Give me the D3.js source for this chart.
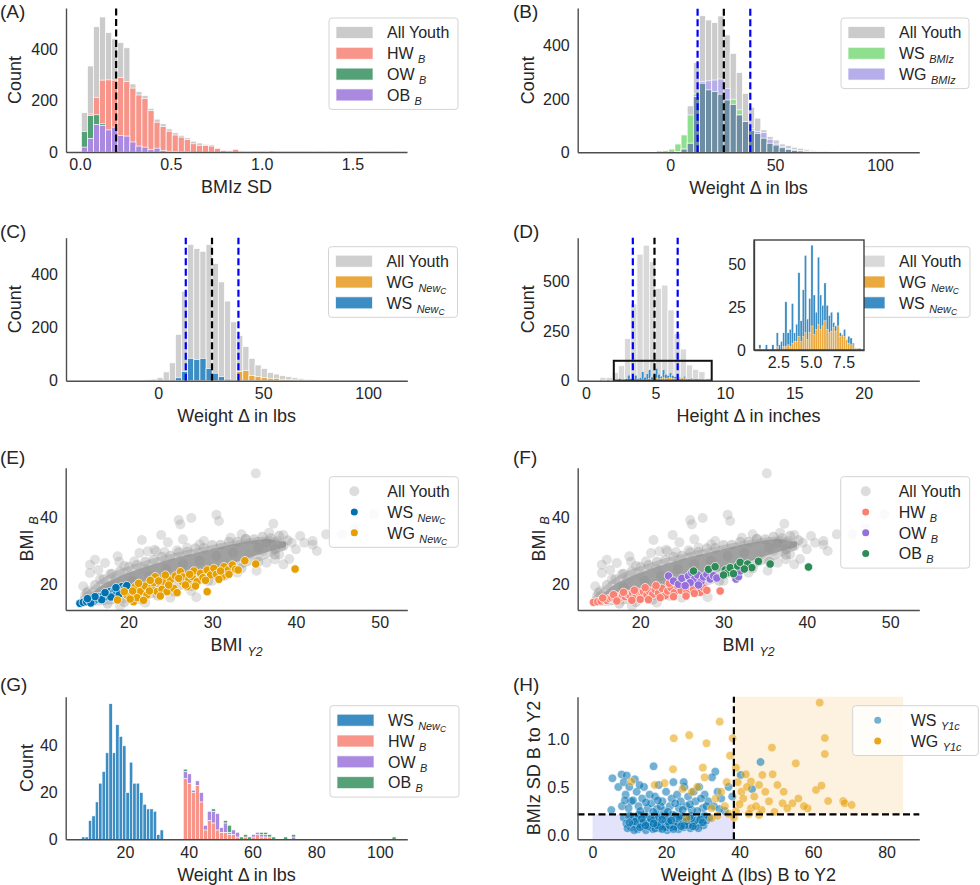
<!DOCTYPE html>
<html><head><meta charset="utf-8">
<script src="https://cdn.jsdelivr.net/npm/d3@7"></script>
<style>body{margin:0;background:#fff}svg{display:block}text{white-space:pre}</style>
</head><body>
<script>
// ---------------- DATA ----------------
// (A) BMIz SD histogram, bins start 0.008, width 0.0333
const aBinStart = 0.008, aBinWidth = 0.0333;
const aAllYouth = [153,335,488,526,465,441,426,406,265,235,220,170,128,110,90,75,65,55,42,35,30,28,16,8,6,12,5,4,3,3,5,4,2,1,1,3,1,1,0,1,0,1,0,0,1,0,0,0,1,0,0,1];
const aHW = [0,148,213,280,281,280,290,274,249,222,209,161,116,99,81,66,58,48,32,26,25,23,13,6,4,10,3,2,1,1,2,4,1,0,0,1,0,0,0,0,0,0,0,0,0,0,0,0,0,0,0,0];
const aOW = [80,142,145,110,0,0,0,0,0,0,0,0,0,0,0,0,0,0,0,0,0,0,0,0,0,0,0,0,0,0,0,0,0,0,0,0,0,0,0,0,0,0,0,0,0,0,0,0,0,0,0,0];
const aOB = [19,52,107,103,86,97,65,62,39,23,19,9,15,6,3,2,1,1,0,0,0,0,0,0,0,0,0,0,0,0,0,0,0,0,0,0,0,0,0,0,0,0,0,0,0,0,0,0,0,0,0,0];
const aMean = 0.199;

// (B)/(C) weight change histogram, bins start -6.44, width 2.92
const wBinStart = -6.44, wBinWidth = 2.92;
const wAllYouth = [5,6,12,33,67,174,336,512,496,486,511,440,371,299,221,169,128,84,59,46,31,25,19,15,11,7,5,4,2,1];
const bWS = [5,6,12,31,65,140,219,259,234,228,218,196,199,159,115,90,71,53,34,27,17,10,7,5,3,2,1,0,0,0];
const bWG = [0,0,0,2,12,34,209,265,268,271,275,240,180,140,115,81,78,74,49,31,21,15,10,7,5,3,2,1,1,0];
const wLines = [13.1, 25.6, 38.2];
const cWSStart = 8.16, cWS = [11,34,84,80,84,46,28,15,6];
const cWGStart = 37.36, cWG = [34,38,19,15,12,9,9,5,5,3,2,1];

// (D) height change
const dBinStart = 1.0, dBinWidth = 0.445;
const dAllYouth = [17,17,40,75,212,385,635,680,597,463,480,355,237,159,79,57,45,12];
const dFineStart = 1.0, dFineWidth = 0.1667;
const dWS = [3,0,0,3,0,0,3,0,10,3,5,10,28,10,12,27,10,15,45,17,35,55,18,30,61,32,22,54,32,26,39,26,20,22,16,14,22,10,9,12,6,8,7,4,1,1,1];
const dWG = [1,0,0,0,0,0,0,0,2,0,0,2,2,3,2,4,5,5,8,5,8,10,6,10,14,9,12,15,12,14,17,12,10,11,13,11,14,8,9,8,6,4,3,3,1,1,0];
const dLines = [3.37, 4.93, 6.6];
const dZoomBox = [2.0, 9.05, 0, 100];

// (E)/(F) BMI scatter: All Youth dense band (x, upper, lower) and individual points
const bandX  = [14.2,15.5,17,19,21,23,25,27,29,31,33,35,37,38.8];
const bandHi = [16.0,19.0,22.0,24.5,26.2,27.8,29.0,30.2,31.3,32.3,33.2,34.0,34.3,33.0];
const bandLo = [13.8,13.6,13.8,14.3,15.0,16.0,17.3,18.8,20.5,22.3,24.2,26.2,28.3,30.5];
const coreHi = [15.0,17.2,20.0,22.5,24.4,26.0,27.5,28.8,30.0,31.2,32.3,33.2,33.5,32.5];
const coreLo = [14.2,14.3,15.0,16.2,17.6,19.0,20.5,22.0,23.6,25.2,26.8,28.5,30.0,31.2];
const grayPts = [[35.2,53.3],[26.0,39.3],[27.5,39.9],[26.2,38.0],[30.5,40.9],[30.8,39.0],[49.3,41.0],[43.6,35.0],[42.0,33.0],[47.0,36.7],[40.5,34.5],[40.0,30.5],[39.2,27.6],[37.3,38.2],[35.3,24.1],[28.1,16.1],[21.6,33.3],[23.9,34.8],[24.7,32.6],[22.3,29.9],[23.3,29.9],[20.7,26.9],[18.7,28.4],[15.4,25.9],[16.0,27.4],[14.6,19.4],[15.4,23.4],[17.2,26.4],[18.9,26.8],[21.3,29.4],[23.1,30.4],[24.3,29.7],[16.4,24.3],[19.5,25.5],[17.8,23.0],[16.6,21.5],[25.8,30.2],[27.0,31.0],[26.5,33.5],[28.5,32.0],[36.8,35.5],[38.5,34.8],[37.8,33.0],[39.5,32.5],[36.0,30.0],[34.5,29.0],[38.0,29.0],[41.0,32.5],[42.5,30.0],[45.5,35.0],[33.5,35.0],[32.2,34.0],[34.0,33.5],[29.0,33.0],[22.0,24.5],[20.0,22.5],[18.5,21.5],[24.5,26.0],[15.2,18.0],[14.8,16.5],[19.0,13.5],[22.0,14.5],[25.0,16.0],[27.5,18.0],[30.0,21.0],[31.5,22.5],[33.0,23.5],[36.5,26.5],[37.5,27.5],[38.5,26.0],[42.0,31.9]];
const bandPts = [[15.0,17.5],[16.0,19.8],[17.0,21.5],[18.0,23.2],[19.0,24.0],[20.0,25.3],[21.0,25.8],[22.0,26.8],[23.0,27.4],[24.0,28.3],[25.0,28.6],[26.0,29.6],[27.0,29.8],[28.0,30.8],[29.0,30.9],[30.0,31.8],[31.0,31.9],[32.0,32.8],[33.0,32.8],[34.0,33.7],[35.0,33.5],[36.0,34.3],[37.0,33.8],[38.0,34.6],[39.0,33.2],[36.5,32.5],[38.5,31.5],[37.5,30.5],[17.5,14.2],[19.5,14.6],[21.5,15.4],[23.5,16.6],[25.5,17.8],[27.5,19.4],[29.5,21.0],[31.5,22.8],[33.5,24.8],[35.5,26.8],[37.5,28.9],[20.5,21.0],[24.5,24.5],[28.5,27.0],[32.5,29.5],[35.5,31.0],[18.0,19.0],[22.5,22.5],[26.5,26.0],[30.5,28.5]];
const eWS = [[14.2,14.3],[14.6,14.6],[15.0,14.8],[15.3,15.2],[15.6,15.6],[15.9,15.0],[16.2,15.6],[16.4,16.2],[16.6,16.3],[16.9,15.8],[17.0,16.8],[17.4,16.3],[17.6,17.2],[17.8,17.8],[18.0,16.8],[18.2,17.6],[18.4,18.3],[18.6,17.3],[18.8,18.6],[19.0,18.3],[19.2,19.3],[19.4,18.0],[19.6,19.0],[19.8,19.6],[15.5,14.4],[16.8,15.4],[17.9,16.2],[18.9,17.1],[16.0,16.3],[17.2,17.5],[18.5,19.0],[15.1,15.7]];
const eWG = [[18.7,15.3],[19.8,16.8],[20.6,14.8],[20.8,19.3],[21.4,17.8],[21.0,16.0],[22.2,16.8],[22.0,19.5],[22.8,19.3],[23.2,22.3],[23.4,17.8],[23.0,20.5],[24.2,20.8],[24.0,18.5],[24.6,17.8],[25.0,21.3],[25.4,18.8],[25.6,22.5],[26.2,23.8],[26.4,20.8],[26.5,22.2],[27.0,19.3],[27.2,21.5],[27.6,22.3],[27.8,24.0],[28.2,20.8],[28.6,23.3],[28.9,22.0],[29.4,17.8],[29.4,24.3],[29.8,22.8],[30.2,24.8],[30.5,23.0],[31.2,22.3],[31.4,25.3],[31.9,24.3],[32.4,25.8],[32.8,24.5],[33.1,24.3],[33.9,27.1],[35.2,26.1],[39.9,24.6],[21.8,15.2],[20.2,15.6],[23.8,16.5],[25.8,17.5],[26.8,19.8],[28.0,19.5],[30.8,21.5],[22.5,18.0],[24.8,19.8],[21.2,20.3],[19.5,17.8],[20.5,18.0],[23.6,21.0],[27.3,23.0],[29.2,21.2],[31.0,24.0],[32.0,23.0],[26.0,21.8],[24.4,22.8],[22.6,21.2]];
const fHW = [[14.4,14.6],[14.9,14.8],[15.3,15.0],[15.7,15.4],[16.0,15.2],[16.3,15.8],[16.6,16.0],[17.0,15.6],[17.3,16.4],[17.6,16.0],[17.9,16.8],[18.2,16.3],[18.5,17.0],[18.8,16.5],[19.1,17.3],[19.5,16.8],[19.8,17.6],[20.1,16.2],[20.4,17.8],[20.8,16.8],[21.1,18.0],[21.5,17.0],[21.8,18.4],[22.2,17.4],[22.6,18.8],[23.0,16.6],[23.3,18.0],[23.7,19.0],[24.1,17.5],[24.5,19.5],[24.9,18.2],[25.3,20.2],[25.6,17.8],[26.0,19.4],[26.4,18.5],[26.8,20.3],[27.2,17.6],[27.6,19.0],[28.0,18.2],[29.6,18.0],[15.5,15.9],[16.8,16.9],[18.0,17.6],[19.3,18.2],[20.6,19.0],[21.9,19.6],[23.5,20.3],[25.0,21.3],[20.0,15.5],[22.4,16.0],[24.0,16.3],[17.2,15.0],[21.0,15.4],[19.0,15.2],[26.5,17.3],[25.5,16.5],[27.2,21.0]];
const fOW = [[23.4,22.5],[24.0,21.0],[24.6,20.0],[25.0,21.8],[25.8,22.5],[26.2,23.5],[26.5,21.5],[26.9,22.8],[27.3,20.8],[27.6,22.2],[28.0,23.0],[28.4,21.6],[28.8,22.6],[29.2,21.9],[26.0,20.5],[27.0,19.8],[31.5,21.6],[31.8,22.3],[32.0,24.0],[25.4,19.6]];
const fOB = [[26.4,24.0],[28.2,24.5],[29.0,25.3],[30.2,24.3],[30.5,23.5],[30.8,25.0],[31.2,23.2],[31.7,25.5],[32.0,26.6],[32.9,26.1],[33.4,25.0],[34.2,26.9],[35.6,26.1],[40.2,25.2],[30.0,22.8],[32.5,24.6]];

// (G) weight change of new groups
const gWSStart = 6.4, gWSWidth = 1.07;
const gWS = [1,1,8,10,16,24,29,37,58,37,49,44,40,20,33,24,24,20,15,13,13,12,2,4];
const gStart = 38.3, gWidth = 1.26;
const gHW = [26,24,20,23,16,4,8,7,4,3,3,2,2,1,0,1,0,1,2,1,1,1,0,0,0,0,0,0,0,0,0,0,0,0,0,0,0,0,0,0,0,0,0,0,0,0,0,0,0,0,0,0,0];
const gOW = [3,4,1,2,4,2,4,5,7,2,4,1,2,2,0,0,0,1,1,1,1,0,0,0,0,0,0,1,0,0,0,0,0,0,0,0,0,0,0,0,0,0,0,0,0,0,0,0,0,0,0,0,0];
const gOB = [1,0,0,0,0,0,0,1,0,0,1,3,0,0,1,1,1,0,0,1,1,1,1,0,0,1,0,1,0,0,0,0,0,0,0,0,0,0,0,0,0,0,0,0,0,0,0,0,0,0,0,0,1];

// (H) weight change vs BMIz SD
const hXCut = 38.45, hYCut = 0.215, hXMax = 84.5;
const hWS = [[8.5,0.18],[9.2,0.12],[9.8,0.2],[10.5,0.08],[10.8,0.15],[11.4,0.19],[11.9,0.1],[12.3,0.06],[12.7,0.14],[13.2,0.2],[13.6,0.09],[14.0,0.16],[14.5,0.05],[14.8,0.12],[15.2,0.19],[15.7,0.08],[16.1,0.14],[16.5,0.06],[16.9,0.2],[17.3,0.11],[17.8,0.16],[18.2,0.07],[18.6,0.13],[19.0,0.19],[19.5,0.09],[19.9,0.15],[20.3,0.05],[20.8,0.12],[21.2,0.18],[21.6,0.08],[22.1,0.14],[22.5,0.2],[23.0,0.1],[23.4,0.06],[23.9,0.16],[24.3,0.12],[24.8,0.08],[25.2,0.18],[25.7,0.11],[26.1,0.15],[26.6,0.07],[27.0,0.2],[27.5,0.12],[28.0,0.09],[28.5,0.16],[29.0,0.13],[29.6,0.19],[30.2,0.1],[31.0,0.15],[31.8,0.18],[9.5,0.07],[11.0,0.11],[12.0,0.17],[13.0,0.11],[14.2,0.21],[15.5,0.13],[16.3,0.1],[17.0,0.07],[18.0,0.2],[19.2,0.11],[20.5,0.17],[21.8,0.21],[23.2,0.13],[24.6,0.15],[26.0,0.1],[27.8,0.15],[10.2,0.2],[12.5,0.21],[15.0,0.09],[17.5,0.13],[20.0,0.08],[22.8,0.17],[25.5,0.14],[28.8,0.07],[13.8,0.13],[16.8,0.16],[19.7,0.2],[22.3,0.09],[24.0,0.2],[26.8,0.17],[18.4,0.09],[21.0,0.1],[11.6,0.14],[30.5,0.2],
 [10.0,0.13],[11.3,0.05],[12.9,0.08],[14.4,0.1],[15.9,0.17],[17.6,0.1],[19.0,0.06],[20.6,0.14],[22.0,0.06],[23.6,0.19],[25.0,0.1],[26.4,0.19],[27.3,0.09],[29.3,0.16],[30.0,0.13],[13.4,0.17],[16.6,0.12],[21.4,0.15],[24.1,0.09],[18.9,0.16],
 [5.1,0.26],[5.4,0.59],[7.9,0.63],[9.3,0.62],[16.6,0.715],[33.4,0.66],[45.7,0.76],[40.3,0.625],[43.4,0.479],[7.0,0.5],[8.5,0.55],[9.0,0.42],[10.0,0.5],[10.5,0.35],[11.5,0.58],[12.0,0.45],[12.5,0.3],[13.5,0.38],[14.0,0.5],[15.0,0.28],[15.5,0.42],[16.0,0.33],[17.0,0.4],[17.5,0.27],[18.0,0.52],[19.0,0.35],[19.5,0.25],[20.0,0.45],[21.0,0.3],[21.5,0.38],[22.0,0.55],[23.0,0.42],[23.5,0.28],[24.0,0.35],[25.0,0.5],[25.5,0.3],[26.0,0.4],[27.0,0.26],[27.5,0.45],[28.0,0.35],[29.0,0.5],[30.0,0.28],[30.5,0.42],[31.5,0.35],[32.5,0.6],[33.0,0.3],[34.0,0.45],[35.0,0.38],[36.0,0.25],[37.0,0.5],[38.0,0.4],[8.0,0.3],[9.8,0.28],[11.0,0.36],[13.0,0.25],[14.5,0.34],[16.5,0.24],[18.5,0.3],[20.5,0.24],[22.5,0.33],[24.5,0.26],[26.5,0.32],[28.5,0.25],[31.0,0.3],[34.5,0.27],[8.8,0.36],[12.8,0.52],[17.8,0.36],[24.8,0.55],[29.5,0.38]];
const hWG = [[61.8,1.378],[34.6,1.18],[22.1,1.007],[26.3,1.04],[31.0,0.955],[38.1,1.007],[63.2,1.01],[48.8,0.91],[63.2,0.843],[37.4,0.826],[55.3,0.746],[21.9,0.684],[30.0,0.701],[60.8,0.469],[62.3,0.514],[64.1,0.354],[68.2,0.354],[68.6,0.33],[70.5,0.313],[54.4,0.33],[46.2,0.625],[49.0,0.632],[41.7,0.632],[43.1,0.556],[45.3,0.521],[50.3,0.521],[58.5,0.278],[51.7,0.33],[43.1,0.278],[45.3,0.208],[32.4,0.278],[32.4,0.174],[25.6,0.174],[16.9,0.521],[10.5,0.556],[19.6,0.54],[39.5,0.55],[40.5,0.45],[41.0,0.38],[42.0,0.5],[44.0,0.4],[47.0,0.45],[48.0,0.35],[52.0,0.45],[53.0,0.28],[56.0,0.38],[57.5,0.3],[36.0,0.3],[37.0,0.22],[39.0,0.25],[40.0,0.32],[35.0,0.45],[33.5,0.38],[28.5,0.5],[27.0,0.45],[30.5,0.6],[24.5,0.48],[34.0,0.2],[38.5,0.18],[42.5,0.22],[46.0,0.26],[49.5,0.24],[36.5,0.55],[39.0,0.7],[44.5,0.3]];

// ---------------- DRAWING ----------------
const FONT = '"Liberation Sans", Arial, Helvetica, sans-serif';
const TXT = "#262626";
const svg = d3.select("body").append("svg").attr("width",980).attr("height",885).attr("font-family",FONT);
svg.append("rect").attr("width",980).attr("height",885).attr("fill","#fff");

function panel(c){
  const x = d3.scaleLinear().domain(c.xd).range([c.l,c.r]);
  const y = d3.scaleLinear().domain(c.yd).range([c.b,c.t]);
  const g = svg.append("g");
  return {x,y,g,c};
}
function axes(p){
  const {x,y,g,c} = p;
  const ax = g.append("g").attr("transform",`translate(0,${c.b})`)
    .call(d3.axisBottom(x).tickValues(c.xt).tickFormat(d3.format(c.xf||"d")).tickSize(0).tickPadding(7));
  const ay = g.append("g").attr("transform",`translate(${c.l},0)`)
    .call(d3.axisLeft(y).tickValues(c.yt).tickFormat(d3.format(c.yf||"d")).tickSize(0).tickPadding(8));
  [ax,ay].forEach(a=>{
    a.attr("font-family",FONT).attr("font-size",16);
    a.select(".domain").attr("stroke","#4d4d4d").attr("stroke-width",1.4);
    a.selectAll("text").attr("fill",TXT);
  });
}
function rich(t, parts, base){
  const off=[0, base*0.25, base*0.4]; let cur=0;
  parts.forEach(([s,l])=>{
    const ts=t.append("tspan").text(s);
    if(l>0) ts.attr("font-style","italic").attr("font-size", l===1? base*0.68 : base*0.53);
    if(l!==cur) ts.attr("dy", off[l]-off[cur]);
    cur=l;
  });
}
function labels(p, xl, yl, yoff){
  const c=p.c, fs=18;
  const tx=svg.append("text").attr("x",(c.l+c.r)/2).attr("y",c.b+35+fs*0.35)
    .attr("text-anchor","middle").attr("font-size",fs).attr("fill",TXT);
  rich(tx,xl,fs);
  const ty=svg.append("text").attr("transform",`translate(${c.l-yoff},${(c.t+c.b)/2}) rotate(-90)`)
    .attr("y",fs*0.35).attr("text-anchor","middle").attr("font-size",fs).attr("fill",TXT);
  rich(ty,yl,fs);
}
function hist(p, start, width, counts, color, sw=0.7, base=null){
  const data = counts.map((v,i)=>({x0:start+i*width, x1:start+(i+1)*width, v, b: base? base[i]:0})).filter(d=>d.v>0);
  p.g.append("g").selectAll("rect").data(data).join("rect")
    .attr("x",d=>p.x(d.x0)).attr("width",d=>Math.max(0.5,p.x(d.x1)-p.x(d.x0)))
    .attr("y",d=>p.y(d.b+d.v)).attr("height",d=>p.y(d.b)-p.y(d.b+d.v))
    .attr("fill",color).attr("stroke","#fff").attr("stroke-width",sw);
}
function vline(p, v, color){
  p.g.append("line").attr("x1",p.x(v)).attr("x2",p.x(v)).attr("y1",p.c.b).attr("y2",p.c.t)
    .attr("stroke",color).attr("stroke-width",2.2).attr("stroke-dasharray","7,3.5");
}
function legend(x0, y0, w, items){
  const h = 29 + (items.length-1)*20.8;
  const g = svg.append("g");
  g.append("rect").attr("x",x0).attr("y",y0).attr("width",w).attr("height",h).attr("rx",3)
    .attr("fill","#fff").attr("fill-opacity",0.82).attr("stroke","#d4d4d4").attr("stroke-width",1);
  items.forEach((it,i)=>{
    const cy = y0+14.5+i*20.8;
    if(it.kind==="patch"){
      g.append("rect").attr("x",x0+7).attr("y",cy-6).attr("width",37).attr("height",12)
        .attr("fill",it.color).attr("stroke","#fff").attr("stroke-opacity",0.7).attr("stroke-width",1);
    } else {
      g.append("circle").attr("cx",x0+25).attr("cy",cy).attr("r",it.r||3.5).attr("fill",it.color).attr("opacity",it.op||1);
    }
    const t=g.append("text").attr("x",x0+58).attr("y",cy+16*0.36).attr("font-size",16).attr("fill",TXT);
    rich(t,it.label,16);
  });
}
function dots(p, pts, color, r, op, stroke){
  p.g.append("g").selectAll("circle").data(pts).join("circle")
    .attr("cx",d=>p.x(d[0])).attr("cy",d=>p.y(d[1])).attr("r",r)
    .attr("fill",color).attr("opacity",op)
    .attr("stroke",stroke?"#fff":"none").attr("stroke-width",stroke||0);
}

const C_GRAY="#cbcbcb", C_HW="#f7958a", C_OW="#55a177", C_OB="#a98ae0";
const C_WSg="#8fdf8f", C_WGp="#b5aee9", C_SLATE="#6d8da3";
const C_OR="#e9a93f", C_BL="#3b8dc4";

// ---- (A)
const pA = panel({l:66,r:407,t:8,b:152,xd:[-0.077,1.80],yd:[0,561],xt:[0,0.5,1,1.5],yt:[0,200,400],xf:".1f"});
hist(pA,aBinStart,aBinWidth,aAllYouth,C_GRAY);
hist(pA,aBinStart,aBinWidth,aHW,C_HW);
hist(pA,aBinStart,aBinWidth,aOW,C_OW);
hist(pA,aBinStart,aBinWidth,aOB,C_OB);
vline(pA,aMean,"#000");
axes(pA);
labels(pA,[["BMIz SD",0]],[["Count",0]],51);
legend(329,18,129,[
  {kind:"patch",color:C_GRAY,label:[["All Youth",0]]},
  {kind:"patch",color:C_HW,label:[["HW ",0],["B",1]]},
  {kind:"patch",color:C_OW,label:[["OW ",0],["B",1]]},
  {kind:"patch",color:C_OB,label:[["OB ",0],["B",1]]}]);

// ---- (B)
const pB = panel({l:577.7,r:919.3,t:8,b:152.3,xd:[-44,118.7],yd:[0,541],xt:[0,50,100],yt:[0,200,400]});
hist(pB,wBinStart,wBinWidth,wAllYouth,C_GRAY);
hist(pB,wBinStart,wBinWidth,bWS,C_WSg);
hist(pB,wBinStart,wBinWidth,bWG,C_WGp);
hist(pB,wBinStart,wBinWidth,bWS.map((v,i)=>Math.min(v,bWG[i])),C_SLATE);
vline(pB,wLines[0],"#0000ff"); vline(pB,wLines[1],"#000"); vline(pB,wLines[2],"#0000ff");
axes(pB);
labels(pB,[["Weight Δ in lbs",0]],[["Count",0]],50);
legend(841,18,128,[
  {kind:"patch",color:C_GRAY,label:[["All Youth",0]]},
  {kind:"patch",color:C_WSg,label:[["WS ",0],["BMIz",1]]},
  {kind:"patch",color:C_WGp,label:[["WG ",0],["BMIz",1]]}]);

// ---- (C)
const pC = panel({l:66,r:407.3,t:237.7,b:380.7,xd:[-44,118.7],yd:[0,537],xt:[0,50,100],yt:[0,200,400]});
hist(pC,wBinStart,wBinWidth,wAllYouth,"#cfcfcf");
hist(pC,cWSStart,wBinWidth,cWS,C_BL);
hist(pC,cWGStart,wBinWidth,cWG,C_OR);
vline(pC,wLines[0],"#0000ff"); vline(pC,wLines[1],"#000"); vline(pC,wLines[2],"#0000ff");
axes(pC);
labels(pC,[["Weight Δ in lbs",0]],[["Count",0]],51);
legend(328.5,246.7,129,[
  {kind:"patch",color:"#cfcfcf",label:[["All Youth",0]]},
  {kind:"patch",color:C_OR,label:[["WG ",0],["New",1],["C",2]]},
  {kind:"patch",color:C_BL,label:[["WS ",0],["New",1],["C",2]]}]);

// ---- (D)
const pD = panel({l:577.7,r:919.3,t:237.7,b:380.7,xd:[-0.6,24],yd:[0,718],xt:[0,5,10,15,20],yt:[0,250,500]});
hist(pD,dBinStart,dBinWidth,dAllYouth,"#d9d9d9");
hist(pD,dFineStart,dFineWidth,dWS,C_BL,0.3);
hist(pD,dFineStart,dFineWidth,dWG,C_OR,0.3);
vline(pD,dLines[0],"#0000ff"); vline(pD,dLines[1],"#000"); vline(pD,dLines[2],"#0000ff");
pD.g.append("rect").attr("x",pD.x(dZoomBox[0])).attr("y",pD.y(dZoomBox[3]))
  .attr("width",pD.x(dZoomBox[1])-pD.x(dZoomBox[0])).attr("height",pD.y(dZoomBox[2])-pD.y(dZoomBox[3]))
  .attr("fill","none").attr("stroke","#111").attr("stroke-width",2);
axes(pD);
labels(pD,[["Height Δ in inches",0]],[["Count",0]],50);
legend(841,246.7,129,[
  {kind:"patch",color:"#d9d9d9",label:[["All Youth",0]]},
  {kind:"patch",color:C_OR,label:[["WG ",0],["New",1],["C",2]]},
  {kind:"patch",color:C_BL,label:[["WS ",0],["New",1],["C",2]]}]);
// inset
const pI = panel({l:754,r:864,t:240,b:350,xd:[0.63,9.08],yd:[0,64],xt:[2.5,5,7.5],yt:[0,25,50],xf:".1f"});
pI.g.append("rect").attr("x",754).attr("y",240).attr("width",110).attr("height",110).attr("fill","#fff");
hist(pI,dFineStart,dFineWidth,dWS,C_BL,0.35);
hist(pI,dFineStart,dFineWidth,dWG,C_OR,0.35);
axes(pI);
pI.g.append("rect").attr("x",754).attr("y",240).attr("width",110).attr("height",110)
  .attr("fill","none").attr("stroke","#333").attr("stroke-width",1.3);

// ---- (E) and (F) shared All Youth background
const pE = panel({l:65.7,r:407.3,t:467.7,b:610,xd:[12.5,53.3],yd:[12.3,55],xt:[20,30,40,50],yt:[20,40]});
const pF = panel({l:577.7,r:919.3,t:467.7,b:610,xd:[12.5,53.5],yd:[12.3,55],xt:[20,30,40,50],yt:[20,40]});
[pE,pF].forEach(p=>{
  const band = d3.area().x((d,i)=>p.x(bandX[i])).y0((d,i)=>p.y(bandLo[i])).y1((d,i)=>p.y(bandHi[i])).curve(d3.curveCatmullRom);
  const core = d3.area().x((d,i)=>p.x(bandX[i])).y0((d,i)=>p.y(coreLo[i])).y1((d,i)=>p.y(coreHi[i])).curve(d3.curveCatmullRom);
  p.g.append("path").datum(bandX).attr("d",band).attr("fill","#c4c4c4").attr("opacity",0.7);
  p.g.append("path").datum(bandX).attr("d",core).attr("fill","#8f8f8f").attr("opacity",0.75);
  dots(p,bandPts,"#8c8c8c",5,0.35,0);
  dots(p,grayPts,"#9a9a9a",5,0.3,0);
});
dots(pE,eWS,"#0072b2",4.2,1,0.7);
dots(pE,eWG,"#e69f00",4.2,1,0.7);
axes(pE);
labels(pE,[["BMI ",0],["Y2",1]],[["BMI ",0],["B",1]],39);
legend(329.3,476.7,129,[
  {kind:"dot",color:"#9a9a9a",r:5,op:0.35,label:[["All Youth",0]]},
  {kind:"dot",color:"#0072b2",label:[["WS ",0],["New",1],["C",2]]},
  {kind:"dot",color:"#e69f00",label:[["WG ",0],["New",1],["C",2]]}]);

dots(pF,fHW,"#fa8072",4.2,1,0.7);
dots(pF,fOW,"#9370db",4.2,1,0.7);
dots(pF,fOB,"#2e8b57",4.2,1,0.7);
axes(pF);
labels(pF,[["BMI ",0],["Y2",1]],[["BMI ",0],["B",1]],39.4);
legend(840.7,476.7,129,[
  {kind:"dot",color:"#9a9a9a",r:5,op:0.35,label:[["All Youth",0]]},
  {kind:"dot",color:"#fa8072",label:[["HW ",0],["B",1]]},
  {kind:"dot",color:"#9370db",label:[["OW ",0],["B",1]]},
  {kind:"dot",color:"#2e8b57",label:[["OB ",0],["B",1]]}]);

// ---- (G)
const pG = panel({l:65.7,r:407.3,t:696.7,b:839.3,xd:[1.4,108.6],yd:[0,61],xt:[20,40,60,80,100],yt:[0,20,40]});
hist(pG,gWSStart,gWSWidth,gWS,C_BL,0.6);
hist(pG,gStart,gWidth,gHW,C_HW,0.6);
hist(pG,gStart,gWidth,gOW,C_OB,0.6,gHW);
hist(pG,gStart,gWidth,gOB,C_OW,0.6,gHW.map((v,i)=>v+gOW[i]));
axes(pG);
labels(pG,[["Weight Δ in lbs",0]],[["Count",0]],39);
legend(330,705.7,129,[
  {kind:"patch",color:C_BL,label:[["WS ",0],["New",1],["C",2]]},
  {kind:"patch",color:C_HW,label:[["HW ",0],["B",1]]},
  {kind:"patch",color:C_OB,label:[["OW ",0],["B",1]]},
  {kind:"patch",color:C_OW,label:[["OB ",0],["B",1]]}]);

// ---- (H)
const pH = panel({l:577.5,r:919.3,t:696.7,b:839.3,xd:[-4.1,88.9],yd:[-0.045,1.44],xt:[0,20,40,60,80],yt:[0,0.5,1.0],yf:".1f"});
pH.g.append("rect").attr("x",pH.x(0)).attr("y",pH.y(hYCut)).attr("width",pH.x(hXCut)-pH.x(0))
  .attr("height",pH.y(pH.c.yd[0])-pH.y(hYCut)).attr("fill","#e3e3fb");
pH.g.append("rect").attr("x",pH.x(hXCut)).attr("y",pH.y(pH.c.yd[1])).attr("width",pH.x(hXMax)-pH.x(hXCut))
  .attr("height",pH.y(hYCut)-pH.y(pH.c.yd[1])).attr("fill","#fdf2df");
dots(pH,hWS,"#0072b2",4.3,0.55,0.6);
dots(pH,hWG,"#e69f00",4.3,0.55,0.6);
pH.g.append("line").attr("x1",pH.c.l).attr("x2",pH.c.r).attr("y1",pH.y(hYCut)).attr("y2",pH.y(hYCut))
  .attr("stroke","#000").attr("stroke-width",2.2).attr("stroke-dasharray","7,3.5");
vline(pH,hXCut,"#000");
axes(pH);
labels(pH,[["Weight Δ (lbs) B to Y2",0]],[["BMIz SD B to Y2",0]],44);
legend(852.7,705.7,125.6,[
  {kind:"dot",color:"#0072b2",op:0.55,label:[["WS ",0],["Y1c",1]]},
  {kind:"dot",color:"#e69f00",op:0.9,label:[["WG ",0],["Y1c",1]]}]);

// ---- panel letters
const letters = [["(A)",0,11],["(B)",513,11],["(C)",0,231],["(D)",513,231],["(E)",0,457],["(F)",513,457],["(G)",0,684],["(H)",513,684]];
svg.append("g").selectAll("text").data(letters).join("text")
  .attr("x",d=>d[1]).attr("y",d=>d[2]+19*0.35).attr("font-size",19).attr("fill",TXT).text(d=>d[0]);
</script></body></html>
